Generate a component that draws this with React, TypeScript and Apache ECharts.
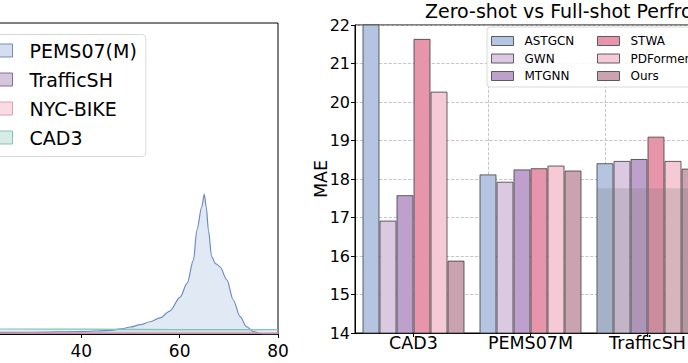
import React, { useEffect, useRef } from "react";
import * as echarts from "echarts";

// ---------- Left panel: density curves ----------
const densityNames = ["PEMS07(M)", "TrafficSH", "NYC-BIKE", "CAD3"];
const pemsDensity: [number, number][] = [
  [20, 0.0008], [30, 0.0009], [40, 0.0012], [46, 0.0019], [48, 0.0026], [50, 0.0036],
  [52, 0.0048], [54, 0.0063], [56, 0.0083], [58, 0.0118], [60.1, 0.019], [61.5, 0.026],
  [62.8, 0.038], [63.5, 0.0535], [64.5, 0.0655], [65.0, 0.072], [65.4, 0.0655],
  [65.85, 0.0535], [66.5, 0.0398], [67.3, 0.0362], [68.2, 0.0346], [69.6, 0.0278],
  [70.9, 0.0175], [72.3, 0.0089], [73.6, 0.0038], [75, 0.0012], [76.5, 0.0002],
  [78, 0.0], [80, 0.0],
];
const trafficDensity: [number, number][] = [[20, 0.0003], [50, 0.0003], [80, 0.0003]];
const nycDensity: [number, number][] = [[20, 0.0004], [50, 0.0004], [80, 0.0004]];
const cadDensity: [number, number][] = [[20, 0.0026], [40, 0.0025], [60, 0.0023], [80, 0.0022]];
const densityXMin = 20;
const densityXMax = 80;
const densityXStep = 20;
const densityYMax = 0.16;

// ---------- Right panel: bar chart ----------
const barCategories = ["CAD3", "PEMS07M", "TrafficSH"];
const methodNames = ["ASTGCN", "GWN", "MTGNN", "STWA", "PDFormer", "Ours"];
const astgcn = [23.0, 18.12, 18.41];
const gwn = [16.92, 17.93, 18.47];
const mtgnn = [17.58, 18.25, 18.52];
const stwa = [21.64, 18.28, 19.1];
const pdformer = [20.27, 18.35, 18.47];
const ours = [15.88, 18.22, 18.27];
const overlayValues = [null, null, 17.76];
const maeMin = 14;
const maeMax = 22;
const maeStep = 1;

const densityLine = ["#6f8bc4", "#8c6b9c", "#e49ab3", "#86c3b2"];
const densityFill = ["rgba(170,193,226,0.5)", "rgba(190,165,200,0.5)", "rgba(245,190,208,0.5)", "rgba(170,214,201,0.5)"];
const legendFill = ["#d4deee", "#d5c6da", "#f9dbe4", "#d6ece6"];
const barColors = ["#b5c5e1", "#dbc8e1", "#bea0cc", "#e795ab", "#f5cad6", "#cba3b0"];

export default function App() {
  const ref = useRef<HTMLDivElement>(null);
  useEffect(() => {
    if (!ref.current) return;
    const chart = echarts.init(ref.current, undefined, { renderer: "svg" });
    const methodData = [astgcn, gwn, mtgnn, stwa, pdformer, ours];
    const densityData = [pemsDensity, trafficDensity, nycDensity, cadDensity];
    const font = "DejaVu Sans";
    const gridLine = { type: "dashed" as const, color: "#b8b8b8", width: 0.8 };

    const option: any = {
      animation: false,
      backgroundColor: "#ffffff",
      textStyle: { fontFamily: font },
      title: {
        text: "Zero-shot vs Full-shot Perfromance",
        left: 425,
        top: 1,
        padding: 0,
        textStyle: { fontSize: 19, fontWeight: "normal", color: "#000", fontFamily: font },
      },
      grid: [
        {
          left: -17, width: 295, top: 23, bottom: 29, show: true, borderColor: "#000", borderWidth: 1,
          outerBoundsMode: "none", containLabel: false,
        },
        {
          left: 355, width: 351, top: 25, bottom: 30, show: true, borderColor: "#000", borderWidth: 1,
          outerBoundsMode: "none", containLabel: false,
        },
      ],
      xAxis: [
        {
          type: "value", gridIndex: 0, min: densityXMin, max: densityXMax, interval: densityXStep,
          axisLine: { show: true, lineStyle: { color: "#000" } },
          axisTick: { show: true, length: 4, lineStyle: { color: "#000" } },
          axisLabel: { fontSize: 17, color: "#000", margin: 8, fontFamily: font, showMinLabel: false },
          splitLine: { show: false },
        },
        {
          type: "category", gridIndex: 1, data: barCategories,
          axisLine: { show: true, lineStyle: { color: "#000" } },
          axisTick: { show: true, alignWithLabel: true, length: 4, lineStyle: { color: "#000" } },
          axisLabel: { fontSize: 17.5, color: "#000", margin: 1, interval: 0, fontFamily: font },
          splitLine: { show: false },
        },
        {
          type: "category", gridIndex: 1, data: barCategories, show: false,
        },
      ],
      yAxis: [
        {
          type: "value", gridIndex: 0, min: 0, max: densityYMax,
          axisLine: { show: true, lineStyle: { color: "#000" } },
          axisTick: { show: false }, axisLabel: { show: false }, splitLine: { show: false },
        },
        {
          type: "value", gridIndex: 1, min: maeMin, max: maeMax, interval: maeStep,
          name: "MAE", nameLocation: "middle", nameGap: 25, nameMoveOverlap: false,
          nameTextStyle: { fontSize: 17.5, color: "#000", fontFamily: font },
          axisLine: { show: true, lineStyle: { color: "#000" } },
          axisTick: { show: true, length: 4, lineStyle: { color: "#000" } },
          axisLabel: { fontSize: 16, color: "#000", margin: 5, fontFamily: font },
          splitLine: { show: true, lineStyle: gridLine },
        },
      ],
      legend: [
        {
          orient: "vertical", left: -35, top: 34.5, padding: [6, 9, 9, 9],
          itemWidth: 38, itemHeight: 13, itemGap: 9, icon: "rect", selectedMode: false,
          backgroundColor: "rgba(255,255,255,0.85)", borderColor: "#d9d9d9", borderWidth: 1, borderRadius: 4,
          textStyle: { fontSize: 19, color: "#000", lineHeight: 20, padding: [0, 0, 0, 12], fontFamily: font },
          data: densityNames.map((n, i) => ({
            name: n,
            itemStyle: { color: legendFill[i], borderColor: densityLine[i], borderWidth: 1 },
          })),
        },
        {
          orient: "vertical", left: 491, top: 34, padding: 0,
          itemWidth: 22, itemHeight: 9, itemGap: 3.5, icon: "rect", selectedMode: false, z: 6,
          textStyle: { fontSize: 12, color: "#000", lineHeight: 14, padding: [0, 0, 0, 6], fontFamily: font },
          data: methodNames.slice(0, 3).map((n, i) => ({
            name: n, itemStyle: { color: barColors[i], borderColor: "rgba(60,60,60,0.8)", borderWidth: 1 },
          })),
        },
        {
          orient: "vertical", left: 597, top: 34, padding: 0,
          itemWidth: 22, itemHeight: 9, itemGap: 3.5, icon: "rect", selectedMode: false, z: 6,
          textStyle: { fontSize: 12, color: "#000", lineHeight: 14, padding: [0, 0, 0, 6], fontFamily: font },
          data: methodNames.slice(3).map((n, i) => ({
            name: n, itemStyle: { color: barColors[i + 3], borderColor: "rgba(60,60,60,0.8)", borderWidth: 1 },
          })),
        },
      ],
      graphic: [
        {
          type: "rect", z: 5, silent: true,
          shape: { x: 487, y: 27, width: 260, height: 60, r: 3 },
          style: { fill: "rgba(255,255,255,0.85)", stroke: "#d9d9d9", lineWidth: 1 },
        },
      ],
      series: [
        ...densityData.map((d, i) => ({
          type: "line", name: densityNames[i], xAxisIndex: 0, yAxisIndex: 0,
          data: d, smooth: 0.3, smoothMonotone: "x", showSymbol: false, symbol: "none",
          lineStyle: { color: densityLine[i], width: 1.2 },
          itemStyle: { color: densityLine[i] },
          areaStyle: { color: densityFill[i] },
          z: 2,
        })),
        ...methodData.map((d, i) => ({
          type: "bar", name: methodNames[i], xAxisIndex: 1, yAxisIndex: 1,
          data: d, barWidth: 17, barGap: "0%", clip: true,
          itemStyle: { color: barColors[i], borderColor: "rgba(60,60,60,0.8)", borderWidth: 1 },
          z: 2,
          ...(i === 0
            ? {
                markLine: {
                  silent: true, symbol: ["none", "none"], z: 1,
                  label: { show: false },
                  lineStyle: gridLine,
                  data: barCategories.map((c) => ({ xAxis: c })),
                },
              }
            : {}),
        })),
        {
          type: "bar", name: "overlay", xAxisIndex: 2, yAxisIndex: 1,
          data: overlayValues, barWidth: 102, silent: true, z: 3,
          itemStyle: { color: "rgba(110,110,110,0.22)" },
        },
      ],
    };
    chart.setOption(option);
    return () => chart.dispose();
  }, []);
  return (
    <div
      ref={ref}
      style={{ position: "fixed", left: 0, top: 0, width: 688, height: 363, background: "#fff" }}
    />
  );
}
